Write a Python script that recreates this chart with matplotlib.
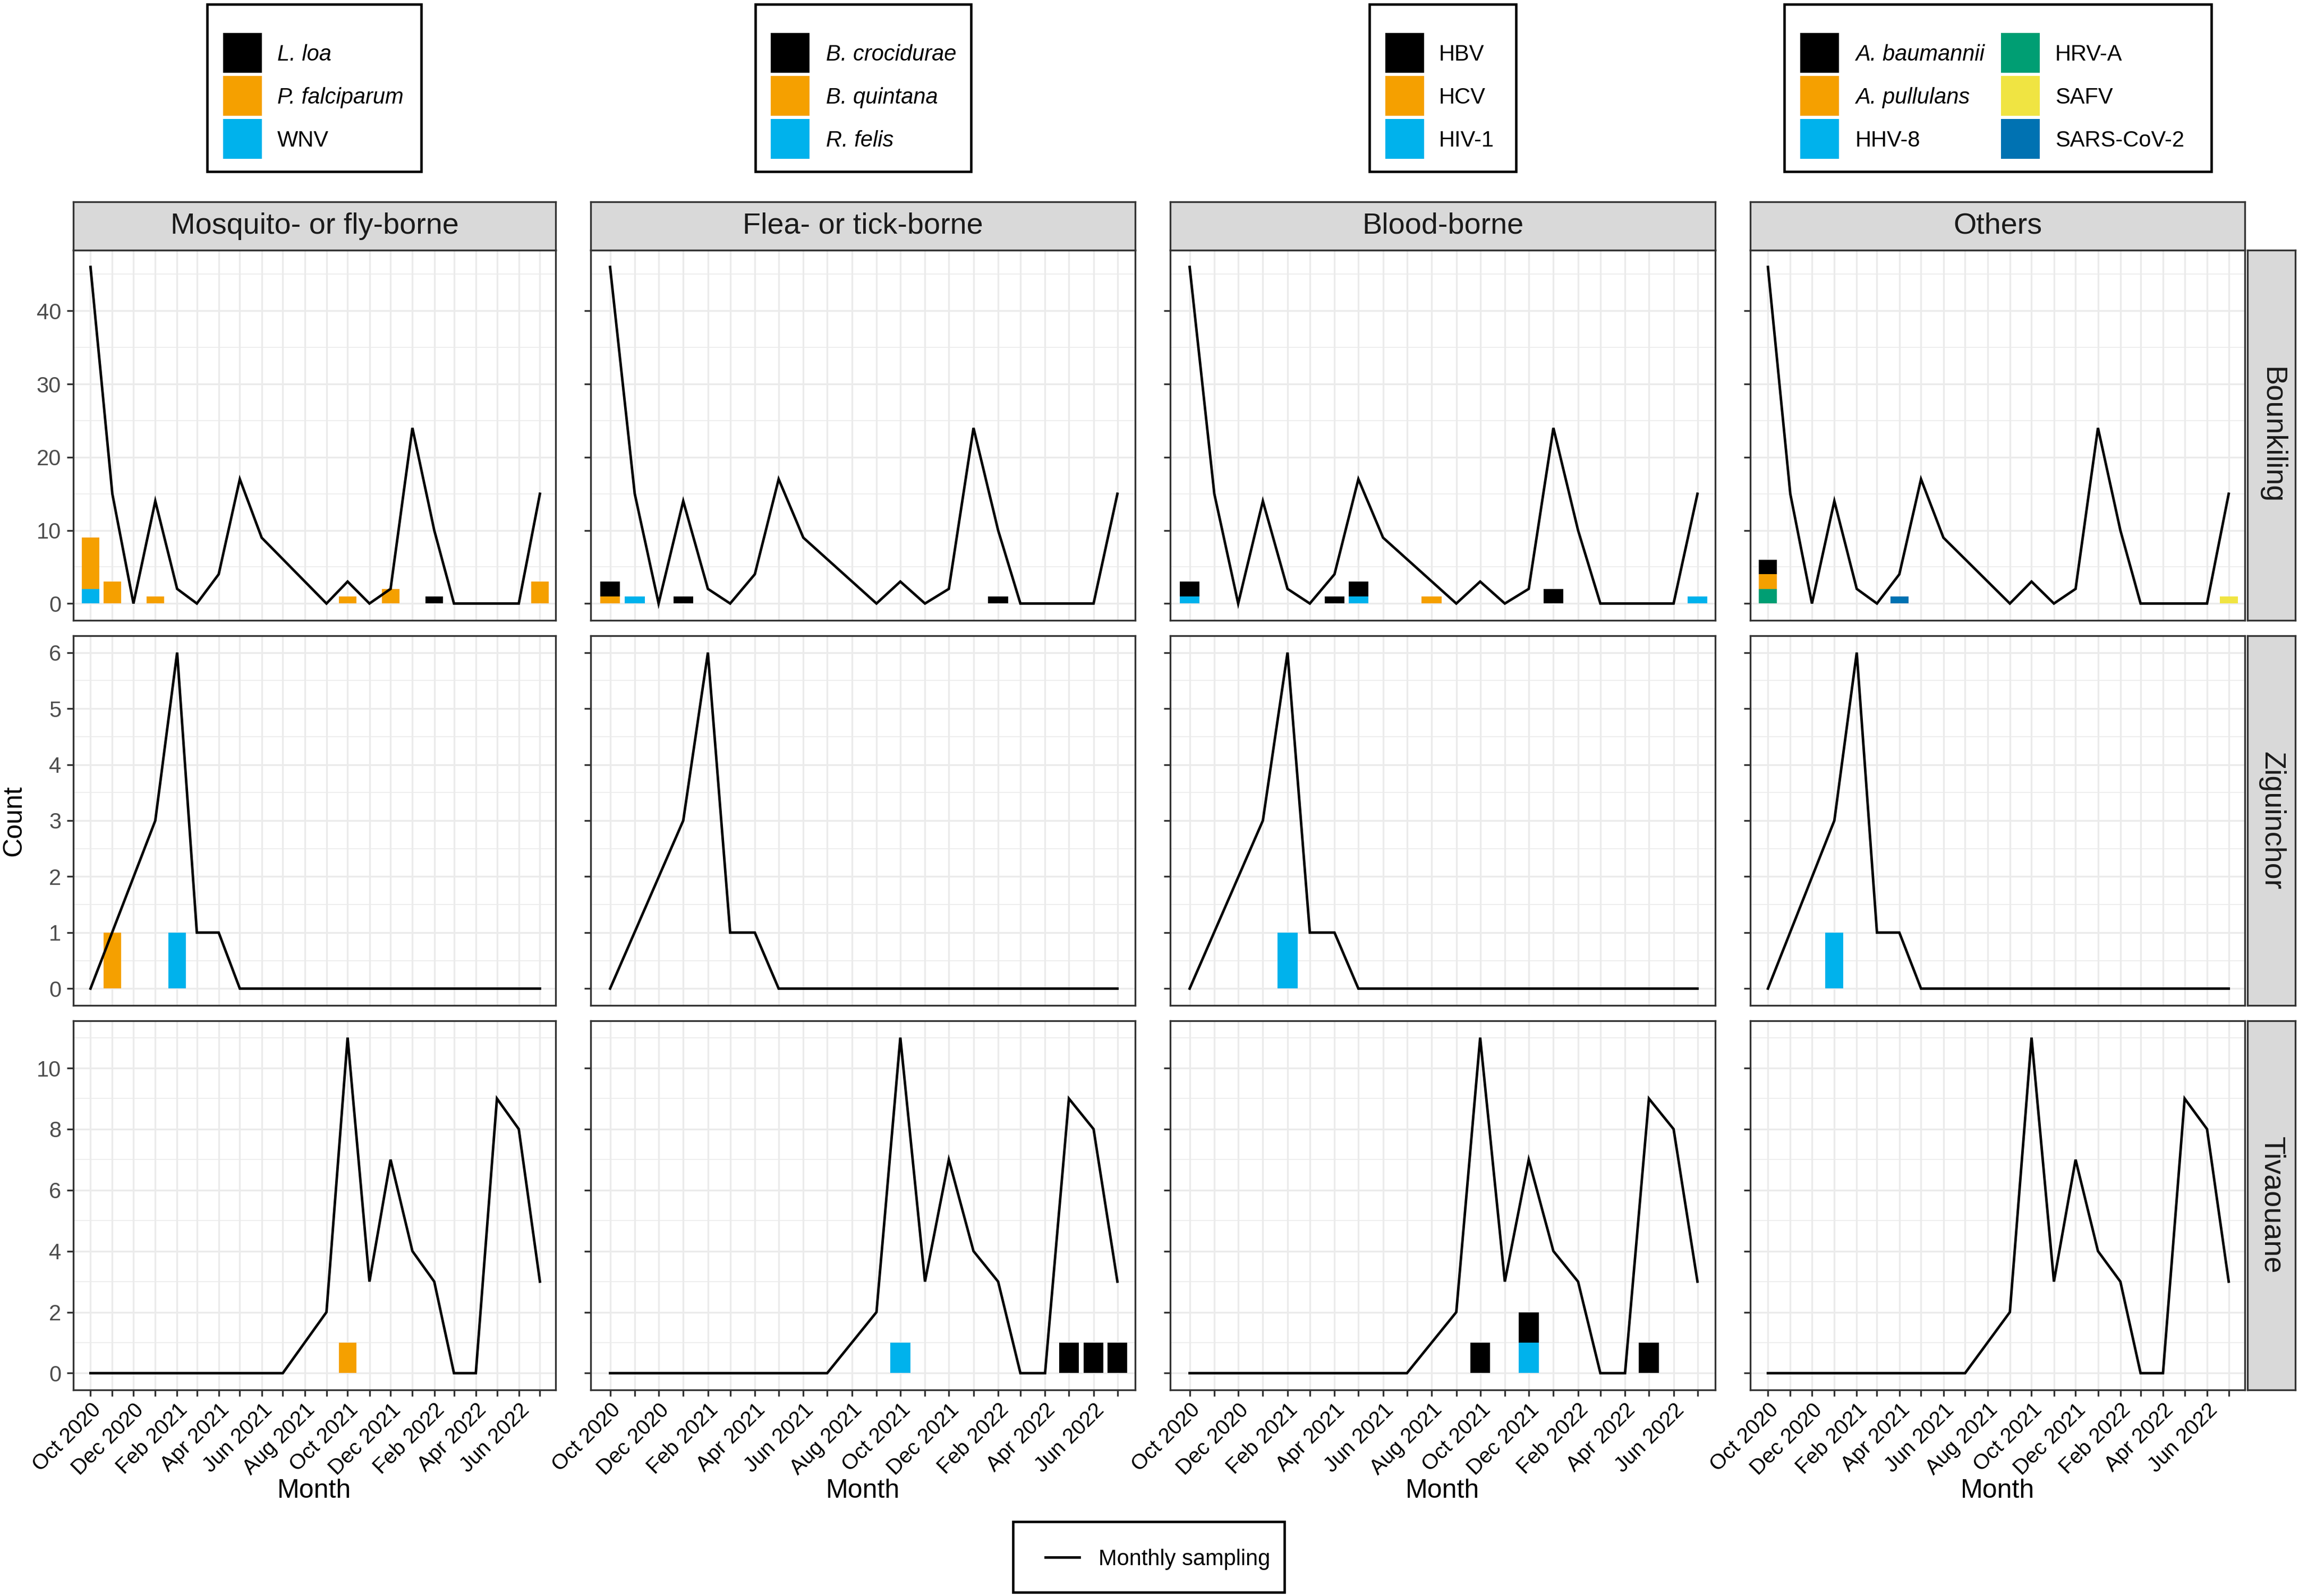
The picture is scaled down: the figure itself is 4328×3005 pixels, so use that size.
import matplotlib
matplotlib.use('Agg')
import matplotlib.pyplot as plt
import matplotlib.dates as mdates
from matplotlib.patches import Rectangle
from matplotlib.lines import Line2D
from datetime import datetime

plt.rcParams['font.family'] = ['Liberation Sans', 'DejaVu Sans']

# ---- data ----
months = ['2020-10', '2020-11', '2020-12', '2021-01', '2021-02', '2021-03',
          '2021-04', '2021-05', '2021-06', '2021-07', '2021-08', '2021-09',
          '2021-10', '2021-11', '2021-12', '2022-01', '2022-02', '2022-03',
          '2022-04', '2022-05', '2022-06', '2022-07']

locations = ['Bounkiling', 'Ziguinchor', 'Tivaouane']

# monthly sampling (vertices of the black line)
bounkiling_months = ['2020-10', '2020-11', '2020-12', '2021-01', '2021-02', '2021-03',
                     '2021-04', '2021-05', '2021-06', '2021-09', '2021-10', '2021-11',
                     '2021-12', '2022-01', '2022-02', '2022-03', '2022-06', '2022-07']
bounkiling_counts = [46, 15, 0, 14, 2, 0, 4, 17, 9, 0, 3, 0, 2, 24, 10, 0, 0, 15]

ziguinchor_months = ['2020-10', '2021-01', '2021-02', '2021-03', '2021-04', '2021-05', '2022-07']
ziguinchor_counts = [0, 3, 6, 1, 1, 0, 0]

tivaouane_months = ['2020-10', '2021-07', '2021-09', '2021-10', '2021-11', '2021-12',
                    '2022-01', '2022-02', '2022-03', '2022-04', '2022-05', '2022-06', '2022-07']
tivaouane_counts = [0, 0, 2, 11, 3, 7, 4, 3, 0, 0, 9, 8, 3]

categories = ['Mosquito- or fly-borne', 'Flea- or tick-borne', 'Blood-borne', 'Others']

mosquito_pathogens = ['L. loa', 'P. falciparum', 'WNV']
flea_pathogens = ['B. crocidurae', 'B. quintana', 'R. felis']
blood_pathogens = ['HBV', 'HCV', 'HIV-1']
other_pathogens = ['A. baumannii', 'A. pullulans', 'HHV-8', 'HRV-A', 'SAFV', 'SARS-CoV-2']

three_colors = ['#000000', '#F5A000', '#00B2EC']
other_colors = ['#000000', '#F5A000', '#00B2EC', '#009E73', '#F0E442', '#0072B2']

italic_names = {'L. loa', 'P. falciparum', 'B. crocidurae', 'B. quintana', 'R. felis',
                'A. baumannii', 'A. pullulans'}

# detections: (location, month, pathogen, count)
mosquito_detections = [
    ('Bounkiling', '2020-10', 'WNV', 2), ('Bounkiling', '2020-10', 'P. falciparum', 7),
    ('Bounkiling', '2020-11', 'P. falciparum', 3), ('Bounkiling', '2021-01', 'P. falciparum', 1),
    ('Bounkiling', '2021-10', 'P. falciparum', 1), ('Bounkiling', '2021-12', 'P. falciparum', 2),
    ('Bounkiling', '2022-02', 'L. loa', 1), ('Bounkiling', '2022-07', 'P. falciparum', 3),
    ('Ziguinchor', '2020-11', 'P. falciparum', 1), ('Ziguinchor', '2021-02', 'WNV', 1),
    ('Tivaouane', '2021-10', 'P. falciparum', 1),
]
flea_detections = [
    ('Bounkiling', '2020-10', 'B. quintana', 1), ('Bounkiling', '2020-10', 'B. crocidurae', 2),
    ('Bounkiling', '2020-11', 'R. felis', 1), ('Bounkiling', '2021-01', 'B. crocidurae', 1),
    ('Bounkiling', '2022-02', 'B. crocidurae', 1),
    ('Tivaouane', '2021-10', 'R. felis', 1), ('Tivaouane', '2022-05', 'B. crocidurae', 1),
    ('Tivaouane', '2022-06', 'B. crocidurae', 1), ('Tivaouane', '2022-07', 'B. crocidurae', 1),
]
blood_detections = [
    ('Bounkiling', '2020-10', 'HIV-1', 1), ('Bounkiling', '2020-10', 'HBV', 2),
    ('Bounkiling', '2021-04', 'HBV', 1), ('Bounkiling', '2021-05', 'HIV-1', 1),
    ('Bounkiling', '2021-05', 'HBV', 2), ('Bounkiling', '2021-08', 'HCV', 1),
    ('Bounkiling', '2022-01', 'HBV', 2), ('Bounkiling', '2022-07', 'HIV-1', 1),
    ('Ziguinchor', '2021-02', 'HIV-1', 1),
    ('Tivaouane', '2021-10', 'HBV', 1), ('Tivaouane', '2021-12', 'HIV-1', 1),
    ('Tivaouane', '2021-12', 'HBV', 1), ('Tivaouane', '2022-05', 'HBV', 1),
]
other_detections = [
    ('Bounkiling', '2020-10', 'HRV-A', 2), ('Bounkiling', '2020-10', 'A. pullulans', 2),
    ('Bounkiling', '2020-10', 'A. baumannii', 2), ('Bounkiling', '2021-04', 'SARS-CoV-2', 1),
    ('Bounkiling', '2022-07', 'SAFV', 1),
    ('Ziguinchor', '2021-01', 'HHV-8', 1),
]

sampling = {
    'Bounkiling': (bounkiling_months, bounkiling_counts),
    'Ziguinchor': (ziguinchor_months, ziguinchor_counts),
    'Tivaouane': (tivaouane_months, tivaouane_counts),
}
groups = [
    (mosquito_pathogens, three_colors, mosquito_detections),
    (flea_pathogens, three_colors, flea_detections),
    (blood_pathogens, three_colors, blood_detections),
    (other_pathogens, other_colors, other_detections),
]

# ---- layout (pixel boxes measured on the 4328 x 3005 canvas) ----
W, H = 4328, 3005
col_x = [(138, 1046), (1112, 2137), (2203, 3229), (3295, 4226)]
row_y = [(471, 1168), (1197, 1893), (1922, 2617)]
strip_top = 380
rstrip_x = (4231, 4321)

row_ylim = [(-2.3, 48.3), (-0.3, 6.3), (-0.55, 11.55)]
row_major = [[0, 10, 20, 30, 40], [0, 1, 2, 3, 4, 5, 6], [0, 2, 4, 6, 8, 10]]
row_minor = [[5, 15, 25, 35, 45], [0.5, 1.5, 2.5, 3.5, 4.5, 5.5], [1, 3, 5, 7, 9, 11]]

GRID = '#EBEBEB'
DARK = '#333333'
STRIP = '#D9D9D9'


def frect(x0, y0, x1, y1):
    return [x0 / W, 1 - y1 / H, (x1 - x0) / W, (y1 - y0) / H]


def fpt(x, y):
    return x / W, 1 - y / H


def to_num(m):
    return mdates.date2num(datetime.strptime(m, '%Y-%m'))


month_nums = [to_num(m) for m in months]
month_text = [datetime.strptime(m, '%Y-%m').strftime('%b %Y') if i % 2 == 0 else ''
              for i, m in enumerate(months)]

fig = plt.figure(figsize=(W / 300, H / 300), dpi=300)

for c, (pathogens, colors, detections) in enumerate(groups):
    x0, x1 = col_x[c]
    for r, loc in enumerate(locations):
        y0, y1 = row_y[r]
        ax = fig.add_axes(frect(x0, y0, x1, y1))
        ax.set_axisbelow(True)

        # stacked bars: last level sits at the bottom
        for m in months:
            bottom = 0
            for p in reversed(pathogens):
                n = sum(d[3] for d in detections if d[0] == loc and d[1] == m and d[2] == p)
                if n:
                    ax.bar(to_num(m), n, bottom=bottom, width=25,
                           color=colors[pathogens.index(p)], linewidth=0, zorder=2)
                    bottom += n

        lm, lv = sampling[loc]
        ax.plot([to_num(m) for m in lm], lv, color='black', lw=1.15, zorder=3,
                solid_joinstyle='miter')

        ax.set_xlim(month_nums[0] - 24.4, month_nums[-1] + 22.3)
        ax.set_ylim(*row_ylim[r])
        ax.set_xticks(month_nums)
        ax.set_yticks(row_major[r])
        ax.set_yticks(row_minor[r], minor=True)
        ax.grid(which='major', color=GRID, lw=0.8)
        ax.grid(which='minor', axis='y', color=GRID, lw=0.4)
        for s in ax.spines.values():
            s.set_color(DARK)
            s.set_linewidth(0.8)
        ax.tick_params(which='major', length=2.9, width=0.8, color=DARK, pad=2.6)
        ax.tick_params(which='minor', length=0)
        ax.tick_params(axis='y', labelsize=10, labelcolor='#4D4D4D')
        if c > 0:
            ax.tick_params(axis='y', labelleft=False)

        if r == len(locations) - 1:
            ax.set_xticklabels(month_text)
            ax.tick_params(axis='x', labelsize=9.7, labelcolor='black', pad=1.5)
            for lab in ax.get_xticklabels():
                lab.set_rotation(45)
                lab.set_ha('right')
                lab.set_va('top')
                lab.set_rotation_mode('anchor')
        else:
            ax.tick_params(axis='x', length=0, labelbottom=False)

        if c == len(groups) - 1:
            sax = fig.add_axes(frect(rstrip_x[0], y0, rstrip_x[1], y1))
            sax.set_facecolor(STRIP)
            sax.set_xticks([])
            sax.set_yticks([])
            for s in sax.spines.values():
                s.set_color(DARK)
                s.set_linewidth(0.8)
            sax.text(0.5, 0.5, loc, rotation=270, ha='center', va='center',
                     fontsize=13.4, color='#1A1A1A', transform=sax.transAxes)

    # column strip
    sax = fig.add_axes(frect(x0, strip_top, x1, row_y[0][0]))
    sax.set_facecolor(STRIP)
    sax.set_xticks([])
    sax.set_yticks([])
    for s in sax.spines.values():
        s.set_color(DARK)
        s.set_linewidth(0.8)
    sax.text(0.5, 0.5, categories[c], ha='center', va='center', fontsize=13.4,
             color='#1A1A1A', transform=sax.transAxes)

    # x axis title
    fig.text(*fpt((x0 + x1) / 2, 2820), 'Month', ha='center', va='baseline', fontsize=12)

fig.text(*fpt(26, 1545), 'Count', rotation=90, ha='center', va='center', fontsize=12)

# ---- legends ----
legend_boxes = [(390, 8, 793, 323), (1422, 8, 1828, 323), (2578, 8, 2854, 323),
                (3359, 8, 4163, 323)]
legend_columns = [
    [(420, 522, mosquito_pathogens, three_colors)],
    [(1451, 1555, flea_pathogens, three_colors)],
    [(2608, 2709, blood_pathogens, three_colors)],
    [(3389, 3493, other_pathogens[:3], other_colors[:3]),
     (3767, 3869, other_pathogens[3:], other_colors[3:])],
]
KEY_TOP, KEY_W, KEY_H, KEY_STEP = 62, 73, 75, 81
LEG_FS = 10
em = LEG_FS / 72 * 300

for (bx0, by0, bx1, by1), cols in zip(legend_boxes, legend_columns):
    fig.add_artist(Rectangle(fpt(bx0, by1), (bx1 - bx0) / W, (by1 - by0) / H,
                             transform=fig.transFigure, fill=False,
                             edgecolor='black', lw=1.1))
    for kx, tx, names, cols_ in cols:
        for i, (name, col) in enumerate(zip(names, cols_)):
            top = KEY_TOP + i * KEY_STEP
            fig.add_artist(Rectangle(fpt(kx, top + KEY_H), KEY_W / W, KEY_H / H,
                                     transform=fig.transFigure, facecolor=col,
                                     edgecolor='none'))
            fig.text(*fpt(tx, top + KEY_H / 2 + 0.358 * em), name, fontsize=LEG_FS,
                     va='baseline', ha='left',
                     style='italic' if name in italic_names else 'normal')

# bottom legend
fig.add_artist(Rectangle(fpt(1907, 2998), (2418 - 1907) / W, (2998 - 2865) / H,
                         transform=fig.transFigure, fill=False, edgecolor='black', lw=1.1))
fig.add_artist(Line2D([1968 / W, 2032 / W], [1 - 2932 / H, 1 - 2932 / H],
                      transform=fig.transFigure, color='black', lw=1.15))
fig.text(*fpt(2068, 2932 + 0.358 * em), 'Monthly sampling', fontsize=LEG_FS,
         va='baseline', ha='left')

fig.savefig('out.png', dpi=300, facecolor='white')
